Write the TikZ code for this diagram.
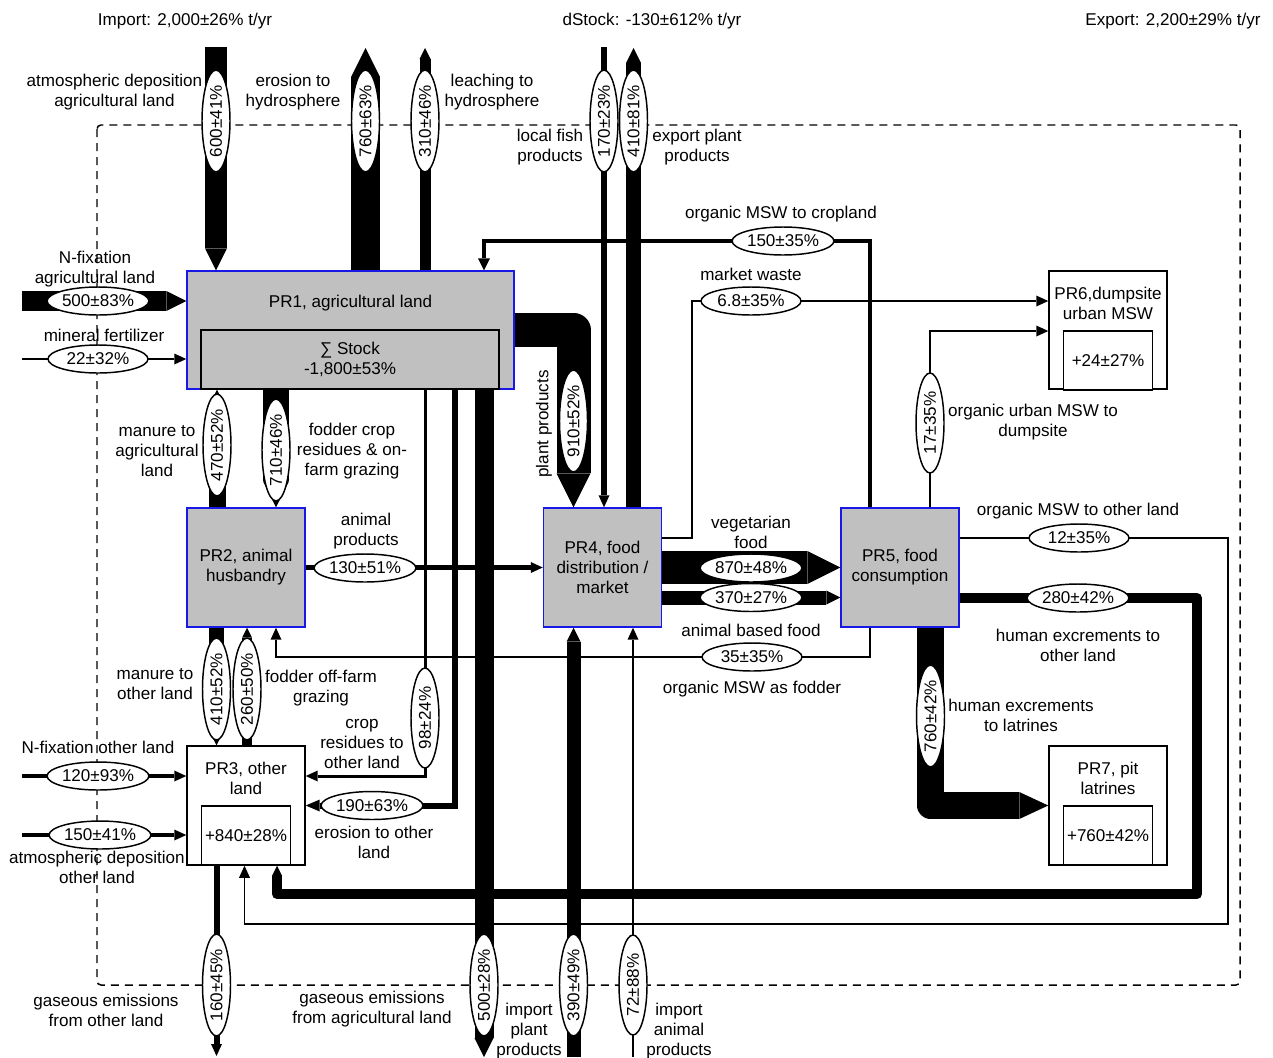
\documentclass[tikz,border=0pt]{standalone}
\usepackage{fontspec}
\setmainfont{Liberation Sans}
\usetikzlibrary{calc,shapes.geometric}
\definecolor{pblue}{RGB}{25,25,230}
\definecolor{pgray}{RGB}{192,192,192}
% arrow heads: #1 tip, #2 head width, #3 head length (picture units)
\newcommand\hD[3]{\fill ($(#1)+({-(#2)/2},{-(#3)})$) -- (#1) -- ($(#1)+({(#2)/2},{-(#3)})$) -- cycle;}
\newcommand\hU[3]{\fill ($(#1)+({-(#2)/2},{#3})$) -- (#1) -- ($(#1)+({(#2)/2},{#3})$) -- cycle;}
\newcommand\hR[3]{\fill ($(#1)+({-(#3)},{-(#2)/2})$) -- (#1) -- ($(#1)+({-(#3)},{(#2)/2})$) -- cycle;}
\newcommand\hL[3]{\fill ($(#1)+({#3},{-(#2)/2})$) -- (#1) -- ($(#1)+({#3},{(#2)/2})$) -- cycle;}
% straight flows: #1 start, #2 tip, #3 width
\newcommand\bandD[3]{\draw[fw=#3] (#1) -- ($(#2)+(0,{-(#3)})$); \hD{#2}{#3}{#3}}
\newcommand\bandU[3]{\draw[fw=#3] (#1) -- ($(#2)+(0,{#3})$); \hU{#2}{#3}{#3}}
\newcommand\bandR[3]{\draw[fw=#3] (#1) -- ($(#2)+({-(#3)},0)$); \hR{#2}{#3}{#3}}
\newcommand\lineD[3]{\draw[fw=#3] (#1) -- ($(#2)+(0,-12)$); \hD{#2}{11}{12}}
\newcommand\lineU[3]{\draw[fw=#3] (#1) -- ($(#2)+(0,12)$); \hU{#2}{11}{12}}
\newcommand\lineR[3]{\draw[fw=#3] (#1) -- ($(#2)+(-12,0)$); \hR{#2}{11}{12}}
\begin{document}
\begin{tikzpicture}[x=0.75pt,y=-0.75pt,
  every node/.style={font=\fontsize{12.8}{15}\selectfont},
  fw/.style={line width=#1*0.75pt},
  lab/.style={ellipse,draw,fill=white,line width=1.1pt,inner xsep=0pt,inner ysep=1pt,minimum width=75pt,minimum height=21pt},
  vlab/.style={lab,rotate=90},
  txt/.style={align=center,inner sep=0pt,yshift=-1.5pt},
  proc/.style={rectangle,draw=pblue,fill=pgray,line width=1.1pt,minimum width=88.5pt,minimum height=89.25pt,inner sep=0pt,align=center},
  wbox/.style={proc,draw=black,fill=white},
  ibox/.style={rectangle,draw,line width=1.1pt,minimum width=66.75pt,minimum height=44.25pt,inner sep=0pt,align=center},
  boundary/.style={line width=1.1pt,dash pattern=on 6pt off 4.5pt,rounded corners=3pt}
]
\useasboundingbox (0,0) rectangle (1273,1057);

% system boundary
\draw[boundary] (97,125) rectangle (1240,985);

% processes
\node[proc,minimum width=245.25pt,minimum height=88.5pt] (pr1) at (350.5,330) {};
\node[proc] (pr2) at (246,567.5) {PR2, animal\\husbandry};
\node[wbox] (pr3) at (246,805.5) {};
\node[proc] (pr4) at (602.5,567.5) {PR4, food\\distribution /\\market};
\node[proc] (pr5) at (900,567.5) {PR5, food\\consumption};
\node[wbox,minimum height=88.5pt] (pr6) at (1108,330) {};
\node[wbox] (pr7) at (1108,805.5) {};

% free ends of the flows
\coordinate (atmA) at (216,47);
\coordinate (eroH) at (365.5,48);
\coordinate (leaH) at (425,48);
\coordinate (fishS) at (604,47);
\coordinate (expT) at (633.5,48);
\coordinate (nfixA) at (22,301);
\coordinate (minF) at (22,359);
\coordinate (nfixO) at (22,776);
\coordinate (atmO) at (22,835);
\coordinate (gasO) at (216.5,1056);
\coordinate (gasA) at (484,1057);
\coordinate (impP) at (573.5,1057);
\coordinate (impA) at (633,1057);
% routing points
\coordinate (manA) at (217,0);
\coordinate (fodA) at (276,0);
\coordinate (manO) at (216.5,0);
\coordinate (fodO) at (247,0);
\coordinate (ppA) at (573.5,0);
\coordinate (mswF) at (870,657);
\coordinate (mswC) at (870,241);
\coordinate (mswCt) at (484,0);
\coordinate (crR) at (425,776);
\coordinate (erO) at (454.5,805.5);
\coordinate (mwA) at (692,538);
\coordinate (mwB) at (692,301);
\coordinate (urb) at (930,331);
\coordinate (anf) at (0,597.5);
\coordinate (mo1) at (1228,538);
\coordinate (mo2) at (1228,924);
\coordinate (mo3) at (244.5,924);
\coordinate (he1) at (1197,598);
\coordinate (he2) at (1197,894);
\coordinate (he3) at (277,894);
\coordinate (lat) at (930.5,805.5);

% flows across the boundary
\bandD{atmA}{pr1.north -| atmA}{22}
\bandU{pr1.north -| eroH}{eroH}{29}
\bandU{pr1.north -| leaH}{leaH}{11}
\bandR{nfixA}{pr1.west |- nfixA}{20}
\lineR{minF}{pr1.west |- minF}{1.3}
\lineD{fishS}{pr4.north -| fishS}{6}
\bandU{pr4.north -| expT}{expT}{15}
\lineR{nfixO}{pr3.west |- nfixO}{4}
\lineR{atmO}{pr3.west |- atmO}{4.5}
\lineD{pr3.south -| gasO}{gasO}{6}
\bandD{pr1.south -| gasA}{gasA}{19}
\bandU{impP}{pr4.south -| impP}{14}
\lineU{impA}{pr4.south -| impA}{1.8}

% internal flows
\bandU{pr2.north -| manA}{pr1.south -| manA}{17}
\bandD{pr1.south -| fodA}{pr2.north -| fodA}{26}
\lineR{pr2.east}{pr4.west}{4.2}
\bandD{pr2.south -| manO}{pr3.north -| manO}{15}
\bandU{pr3.north -| fodO}{pr2.south -| fodO}{10}
\draw[fw=1.5] (pr5.south -| mswF) -- (mswF) -- (mswF -| fodA) -- ($(pr2.south -| fodA)+(0,12)$);
\hU{pr2.south -| fodA}{11}{12}
\draw[fw=4.5] (pr5.north -| mswC) -- (mswC) -- (mswC -| mswCt) -- ($(pr1.north -| mswCt)+(0,-12)$);
\hD{pr1.north -| mswCt}{12}{12}
\draw[fw=34,line join=round] (pr1.east) -- (pr1.east -| ppA) -- ($(pr4.north -| ppA)+(0,-34)$);
\hD{pr4.north -| ppA}{34}{34}
\draw[fw=3] (pr1.south -| crR) -- (crR) -- ($(pr3.east |- crR)+(12,0)$);
\hL{pr3.east |- crR}{11}{12}
\draw[fw=6] (pr1.south -| erO) -- (erO) -- ($(pr3.east)+(14,0)$);
\hL{pr3.east}{12}{14}
\draw[fw=1.5] (pr4.east |- mwA) -- (mwA) -- (mwB) -- ($(pr6.west |- mwB)+(-12,0)$);
\hR{pr6.west |- mwB}{11}{12}
\draw[fw=1.5] (pr5.north -| urb) -- (urb) -- ($(pr6.west |- urb)+(-12,0)$);
\hR{pr6.west |- urb}{11}{12}
\bandR{pr4.east}{pr5.west}{33}
\bandR{pr4.east |- anf}{pr5.west |- anf}{14}
\draw[fw=1.5] (pr5.east |- mo1) -- (mo1) -- (mo2) -- (mo3) -- ($(pr3.south -| mo3)+(0,12)$);
\hU{pr3.south -| mo3}{11}{12}
\draw[fw=10,line join=round] (pr5.east |- he1) -- (he1) -- (he2) -- (he3) -- ($(pr3.south -| he3)+(0,10)$);
\hU{pr3.south -| he3}{10}{10}
\draw[fw=27,line join=round] (pr5.south -| lat) -- (lat) -- ($(pr7.west)+(-29,0)$);
\hR{pr7.west}{27}{29}

% process contents
\node[txt] (pr1t) at (350.5,301) {PR1, agricultural land};
\node[ibox,fill=pgray,minimum width=223.5pt] (st1) at (350,359.5) {∑ Stock\\-1,800±53\%};
\node[txt] (pr3t) at (246,776) {PR3, other\\land};
\node[ibox,fill=white] (st3) at (246,835.5) {+840±28\%};
\node[txt] (pr6t) at (1108,301) {PR6,dumpsite\\urban MSW};
\node[ibox,fill=white] (st6) at (1108,360.5) {+24±27\%};
\node[txt] (pr7t) at (1108,776) {PR7, pit\\latrines};
\node[ibox,fill=white] (st7) at (1108,835.5) {+760±42\%};

% flow values
\node[vlab] (e1) at (216,121) {600±41\%};
\node[vlab] (e2) at (365.5,121) {760±63\%};
\node[vlab] (e3) at (425,121) {310±46\%};
\node[vlab] (e7) at (604,121) {170±23\%};
\node[vlab] (e8) at (633.5,121) {410±81\%};
\node[lab] (e4) at (98,301) {500±83\%};
\node[lab] (e5) at (98,359) {22±32\%};
\node[lab] (e6) at (783,241) {150±35\%};
\node[lab] (e24) at (751,301) {6.8±35\%};
\node[vlab] (e9) at (573.5,421) {910±52\%};
\node[vlab] (e10) at (217,445) {470±52\%};
\node[vlab] (e11) at (276,450) {710±46\%};
\node[vlab] (e25) at (930,423) {17±35\%};
\node[lab] (e12) at (365,568) {130±51\%};
\node[lab] (e26) at (751,568) {870±48\%};
\node[lab] (e27) at (751,597.5) {370±27\%};
\node[lab] (e28) at (1079,538) {12±35\%};
\node[lab] (e29) at (1078,598) {280±42\%};
\node[lab] (e15) at (752,657) {35±35\%};
\node[vlab] (e13) at (216.5,689) {410±52\%};
\node[vlab] (e14) at (247,689) {260±50\%};
\node[vlab] (e16) at (425,718) {98±24\%};
\node[vlab] (e30) at (930.5,716) {760±42\%};
\node[lab] (e19) at (98,776) {120±93\%};
\node[lab] (e17) at (372,805.5) {190±63\%};
\node[lab] (e20) at (100,835) {150±41\%};
\node[vlab] (e21) at (216.5,985) {160±45\%};
\node[vlab] (e18) at (484,985) {500±28\%};
\node[vlab] (e22) at (573.5,985) {390±49\%};
\node[vlab] (e23) at (633,985) {72±88\%};

% headings
\node[txt] (imp) at (185,19) {Import: 2,000±26\% t/yr};
\node[txt] (dst) at (652,19) {dStock: -130±612\% t/yr};
\node[txt] (exp) at (1173,19) {Export: 2,200±29\% t/yr};

% flow names
\node[txt] (l1) at (114.5,90) {atmospheric deposition\\agricultural land};
\node[txt] (l2) at (293,90) {erosion to\\hydrosphere};
\node[txt] (l3) at (492,90) {leaching to\\hydrosphere};
\node[txt] (l7) at (550,145) {local fish\\products};
\node[txt] (l8) at (697,145) {export plant\\products};
\node[txt] (l4) at (95,267) {N-fixation\\agricultural land};
\node[txt] (l5) at (104,333) {mineral fertilizer};
\node[txt] (l6) at (781,212) {organic MSW to cropland};
\node[txt] (l24) at (751,272) {market waste};
\node[txt,rotate=90] (l9) at (544,422) {plant products};
\node[txt] (l10) at (157,449) {manure to\\agricultural\\land};
\node[txt] (l11) at (352,449) {fodder crop\\residues \& on-\\farm grazing};
\node[txt] (l25) at (1033,420) {organic urban MSW to\\dumpsite};
\node[txt] (l12) at (366,529) {animal\\products};
\node[txt] (l26) at (751,530) {vegetarian\\food};
\node[txt] (l28) at (1078,509) {organic MSW to other land};
\node[txt] (l27) at (751,628) {animal based food};
\node[txt] (l29) at (1078,643) {human excrements to\\other land};
\node[txt] (l13) at (155,682) {manure to\\other land};
\node[txt] (l14) at (321,686) {fodder off-farm\\grazing};
\node[txt] (l15) at (752,687) {organic MSW as fodder};
\node[txt] (l30) at (1021,713) {human excrements\\to latrines};
\node[txt] (l16) at (362,742) {crop\\residues to\\other land};
\node[txt] (l19) at (98,745) {N-fixation other land};
\node[txt] (l17) at (374,840) {erosion to other\\land};
\node[txt] (l20) at (97,865) {atmospheric deposition\\other land};
\node[txt] (l21) at (106,1008) {gaseous emissions\\from other land};
\node[txt] (l18) at (372,1007) {gaseous emissions\\from agricultural land};
\node[txt] (l22) at (529,1029) {import\\plant\\products};
\node[txt] (l23) at (679,1029) {import\\animal\\products};
\end{tikzpicture}
\end{document}
